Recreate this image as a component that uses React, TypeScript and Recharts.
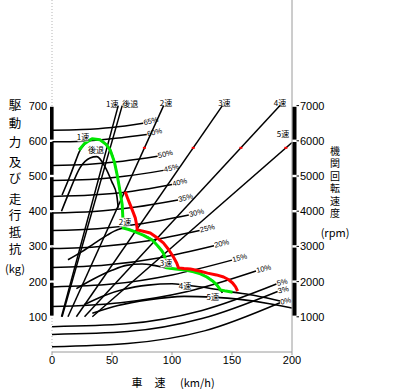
import React from 'react';
import { ComposedChart, Line, XAxis, YAxis, Scatter } from 'recharts';

const NUM_FONT = '"Liberation Sans", Arial, sans-serif';
const JP_FONT = '"Noto Sans CJK JP", "Noto Sans", sans-serif';

// ---------- axis ticks ----------
const X_TICKS = [0, 50, 100, 150, 200];
const KG_TICKS = [100, 200, 300, 400, 500, 600, 700];
const RPM_TICKS = [1000, 2000, 3000, 4000, 5000, 6000, 7000];

// ---------- running resistance by grade: [speed km/h, kg] ----------
const GRADE_NAMES = ['65%', '60%', '50%', '45%', '40%', '35%', '30%', '25%', '20%', '15%', '10%', '5%', '3%', '0%'];
const res65 = [[0, 630], [25, 632], [50, 638], [76, 650]];
const res60 = [[0, 597], [26, 599], [53, 607], [79, 618]];
const res50 = [[0, 530], [29, 533], [59, 542], [88, 556]];
const res45 = [[0, 487], [31, 490], [62, 500], [93, 516]];
const res40 = [[0, 442], [33, 446], [67, 457], [100, 476]];
const res35 = [[0, 395], [35, 399], [70, 412], [105, 432]];
const res30 = [[0, 345], [38, 350], [76, 365], [114, 389]];
const res25 = [[0, 294], [41, 300], [82, 317], [123, 345]];
const res20 = [[0, 240], [45, 247], [90, 268], [135, 302]];
const res15 = [[0, 185], [50, 193], [100, 219], [150, 261]];
const res10 = [[0, 129], [57, 140], [113, 172], [170, 230]];
const res5 = [[0, 72], [62, 80], [125, 118], [187, 193]];
const res3 = [[0, 50], [63, 58], [125, 95], [188, 172]];
const res0 = [[0, 15], [63, 24], [127, 60], [190, 140]];
const GRADE_DATA = [res65, res60, res50, res45, res40, res35, res30, res25, res20, res15, res10, res5, res3, res0];

// ---------- driving force per gear: [speed km/h, kg] ----------
const FORCE_NAMES = ['1速', '後退', '2速', '3速', '4速', '5速'];
const force1 = [[8.4, 446], [15, 500], [20, 545], [22.6, 568], [27, 590], [33.4, 605], [40, 602], [45, 590], [48.5, 574], [52, 540], [54.3, 503], [56.5, 460], [58.5, 418]];
const forceR = [[7.9, 400], [15, 460], [23.3, 523], [31.7, 551], [37.3, 555], [44.2, 526], [49.8, 484], [53.9, 446], [55.2, 410]];
const force2 = [[13.3, 262], [25, 285], [35, 308], [46, 332], [55, 348], [59.4, 352], [69.4, 341], [76, 332], [83.6, 318], [88, 302], [92.8, 281]];
const force3 = [[20.3, 180], [35, 208], [50, 232], [62, 246], [75, 250], [85, 246], [95.3, 239], [111, 233], [123.7, 222], [133.8, 202], [140.5, 176], [142, 168]];
const force4 = [[27.1, 135], [45, 162], [60, 178], [80, 190], [100, 194], [111, 190], [130, 182], [150.5, 170], [170, 160], [190, 145]];
const force5 = [[33.6, 110], [55, 132], [80, 148], [110, 158], [134, 156], [160, 148], [180, 138], [200, 125]];
const FORCE_DATA = [force1, forceR, force2, force3, force4, force5];

// label anchor points for the force curves: [speed, kg]
const FORCE_LABEL_POS = [[25.8, 611], [36.7, 574], [60.8, 369], [95, 253], [110.8, 187.5], [134, 156]];

// ---------- highlighted envelopes ----------
const greenCurve = [[22.6, 574], [27, 592], [33.4, 606], [40, 603], [45, 590], [48.5, 574], [52, 540], [54.3, 503], [56.5, 460], [58.5, 418], [59, 385], [59.4, 352], [64, 348], [69.4, 341], [76, 332], [83.6, 318], [88, 302], [91, 290], [92.8, 281], [94, 270], [95.3, 239], [103, 236], [111.2, 233], [118, 228], [123.7, 222], [129, 213], [133.8, 202], [137.5, 190], [140.5, 176], [145, 173], [150.5, 170]];
const redCurve = [[61, 455], [63, 437], [65.2, 418], [67.5, 398], [69.4, 381], [70.5, 362], [71.1, 347], [76, 343], [81.9, 338], [87, 326], [92.8, 310], [97, 292], [101.2, 270], [104, 252], [105.4, 239], [110, 237], [115.4, 236], [122, 231], [129.6, 224], [137, 219], [143, 213], [147, 206], [150.5, 196], [153, 185], [154.7, 173]];

// ---------- engine speed lines per gear: [speed km/h, rpm] ----------
const RPM_NAMES = ['1速', '後退', '2速', '3速', '4速', '5速'];
const rpm1 = [[8.4, 1000], [58.5, 7000]];
const rpmR = [[7.9, 1000], [55.2, 7000]];
const rpm2 = [[13.3, 1000], [93, 7000]];
const rpm3 = [[20.3, 1000], [142, 7000]];
const rpm4 = [[27.1, 1000], [190, 7000]];
const rpm5 = [[33.6, 1000], [200, 5950]];
const RPM_DATA = [rpm1, rpmR, rpm2, rpm3, rpm4, rpm5];
// small red marks on the speed lines: [speed, rpm]
const RPM_MARKS = [[77, 5800], [117.7, 5800], [157.4, 5800], [194.9, 5800]];

// ---------- layout / style ----------
const W = 404;
const H = 389;
const PLOT_BOTTOM = 352;
const SEG = (PLOT_BOTTOM / 1000) * 100;

const RPM_LABEL_STYLE: Record<string, { dx: number; dy: number }> = {
  '1速': { dx: -10, dy: 1.5 },
  '後退': { dx: 12, dy: 1.5 },
  '2速': { dx: 2.5, dy: 0.5 },
  '3速': { dx: 2, dy: 0.5 },
  '4速': { dx: 0, dy: 0.5 },
  '5速': { dx: -9, dy: -5.5 },
};

const pts = (a: number[][]) => a.map(([x, y]) => ({ x, y }));

const gradeLabel = (text: string, n: number) => (p: any) => {
  if (p.index !== n - 1) return <g />;
  const x = p.x + 1;
  const y = p.y + 2;
  return (
    <text x={x} y={y} fontSize={7.5} fontFamily={NUM_FONT} fill="#000" transform={`rotate(-14 ${x} ${y})`}>
      {text}
    </text>
  );
};

const rpmLabel = (text: string, n: number) => (p: any) => {
  if (p.index !== n - 1) return <g />;
  const s = RPM_LABEL_STYLE[text];
  return (
    <text x={p.x + s.dx} y={p.y + s.dy} fontSize={8} fontFamily={JP_FONT} fill="#000" textAnchor="middle">
      {text}
    </text>
  );
};

const LeftTick = (props: any) => {
  const { y, payload } = props;
  const v = payload.value;
  return (
    <g>
      {v > 100 && <rect x={50} y={y + 1.2} width={3.6} height={SEG - 2.4} fill="#000" />}
      <text x={47} y={y + 4} textAnchor="end" fontSize={11} fontFamily={NUM_FONT} fill="#000">
        {v}
      </text>
    </g>
  );
};

const RightTick = (props: any) => {
  const { y, payload } = props;
  const v = payload.value;
  return (
    <g>
      {v > 1000 && <rect x={292.5} y={y + 1.2} width={4} height={SEG - 2.4} fill="#000" />}
      <line x1={296.5} x2={299} y1={y} y2={y} stroke="#000" strokeWidth={1} />
      <text x={300} y={y + 4} textAnchor="start" fontSize={11} fontFamily={NUM_FONT} fill="#000">
        {v}
      </text>
    </g>
  );
};

const ForceLabelShape = (props: any) => {
  const { cx, cy, payload } = props;
  const t = payload.t as string;
  const w = /[^\x00-\x7f]{2}/.test(t) ? 16 : 11;
  return (
    <g>
      <rect x={cx - w / 2} y={cy - 4.5} width={w} height={9} fill="#fff" />
      <text x={cx} y={cy + 3} textAnchor="middle" fontSize={8} fontFamily={JP_FONT} fill="#000">
        {t}
      </text>
    </g>
  );
};

const RedMarkShape = (props: any) => {
  const { cx, cy } = props;
  return <rect x={cx - 1.5} y={cy - 1} width={3} height={2} fill="#ff0000" />;
};

// left title groups: text, top y, letter spacing
const LEFT_TITLE: [string, number, number][] = [
  ['駆動力', 98.75, 6],
  ['及び', 155.75, 3.5],
  ['走行抵抗', 192.75, 4.2],
];
const RIGHT_TITLE = '機関回転速度';

export default function App() {
  const forceLabelData = FORCE_NAMES.map((t, i) => ({ x: FORCE_LABEL_POS[i][0], y: FORCE_LABEL_POS[i][1], t }));
  return (
    <div style={{ position: 'absolute', left: 0, top: 0, width: W, height: H, background: '#fff' }}>
      <ComposedChart width={W} height={H} margin={{ top: 0, right: 0, bottom: 0, left: 0 }}>
        <XAxis
          dataKey="x"
          type="number"
          domain={[0, 200]}
          ticks={X_TICKS}
          height={37}
          axisLine={{ stroke: '#9a9a9a' }}
          tickLine={{ stroke: '#9a9a9a' }}
          tickSize={3}
          tickMargin={1}
          tick={{ fontSize: 11, fill: '#000', fontFamily: NUM_FONT }}
          allowDataOverflow
        />
        <YAxis
          yAxisId="kg"
          type="number"
          domain={[0, 1000]}
          ticks={KG_TICKS}
          width={52}
          axisLine={{ stroke: '#b5b5b5', strokeDasharray: '1 2' }}
          tickLine={false}
          tick={<LeftTick />}
          allowDataOverflow
        />
        <YAxis
          yAxisId="rpm"
          orientation="right"
          type="number"
          domain={[0, 10000]}
          ticks={RPM_TICKS}
          width={112}
          axisLine={{ stroke: '#9a9a9a' }}
          tickLine={false}
          tick={<RightTick />}
          allowDataOverflow
        />

        {GRADE_DATA.map((d, i) => (
          <Line
            key={'g' + i}
            yAxisId="kg"
            data={pts(d)}
            dataKey="y"
            type="monotone"
            stroke="#000"
            strokeWidth={1.5}
            dot={false}
            isAnimationActive={false}
            label={gradeLabel(GRADE_NAMES[i], d.length)}
          />
        ))}

        {RPM_DATA.map((d, i) => (
          <Line
            key={'r' + i}
            yAxisId="rpm"
            data={pts(d)}
            dataKey="y"
            type="linear"
            stroke="#000"
            strokeWidth={1.5}
            dot={false}
            isAnimationActive={false}
            label={rpmLabel(RPM_NAMES[i], d.length)}
          />
        ))}

        {FORCE_DATA.map((d, i) => (
          <Line
            key={'f' + i}
            yAxisId="kg"
            data={pts(d)}
            dataKey="y"
            type="monotone"
            stroke="#000"
            strokeWidth={1.6}
            dot={false}
            isAnimationActive={false}
          />
        ))}

        <Line
          yAxisId="kg"
          data={pts(greenCurve)}
          dataKey="y"
          type="linear"
          stroke="#00e600"
          strokeWidth={3}
          strokeLinejoin="round"
          dot={false}
          isAnimationActive={false}
        />
        <Line
          yAxisId="kg"
          data={pts(redCurve)}
          dataKey="y"
          type="linear"
          stroke="#ff0000"
          strokeWidth={3}
          strokeLinejoin="round"
          dot={false}
          isAnimationActive={false}
        />

        <Scatter yAxisId="rpm" data={pts(RPM_MARKS)} dataKey="y" shape={<RedMarkShape />} isAnimationActive={false} />
        <Scatter yAxisId="kg" data={forceLabelData} dataKey="y" shape={<ForceLabelShape />} isAnimationActive={false} />
      </ComposedChart>

      <svg width={W} height={H} style={{ position: 'absolute', left: 0, top: 0, pointerEvents: 'none' }}>
        {LEFT_TITLE.map(([t, y, ls]) => (
          <text
            key={t}
            x={15}
            y={y}
            fontSize={12.5}
            fontFamily={JP_FONT}
            fill="#000"
            letterSpacing={ls}
            style={{ writingMode: 'vertical-rl' }}
          >
            {t}
          </text>
        ))}
        <text x={15} y={268} textAnchor="middle" dominantBaseline="central" fontSize={11} fontFamily={JP_FONT} fill="#000">(kg)</text>
        <text
          x={335}
          y={146}
          fontSize={10}
          fontFamily={JP_FONT}
          fill="#000"
          letterSpacing={2.5}
          style={{ writingMode: 'vertical-rl' }}
        >
          {RIGHT_TITLE}
        </text>
        <text x={335} y={232} textAnchor="middle" dominantBaseline="central" fontSize={11} fontFamily={JP_FONT} fill="#000">(rpm)</text>
        <text x={137} y={382} textAnchor="middle" dominantBaseline="central" fontSize={11} fontFamily={JP_FONT} fill="#000">車</text>
        <text x={160} y={382} textAnchor="middle" dominantBaseline="central" fontSize={11} fontFamily={JP_FONT} fill="#000">速</text>
        <text x={180} y={382} textAnchor="start" dominantBaseline="central" fontSize={11} fontFamily={JP_FONT} fill="#000">(km/h)</text>
      </svg>
    </div>
  );
}
